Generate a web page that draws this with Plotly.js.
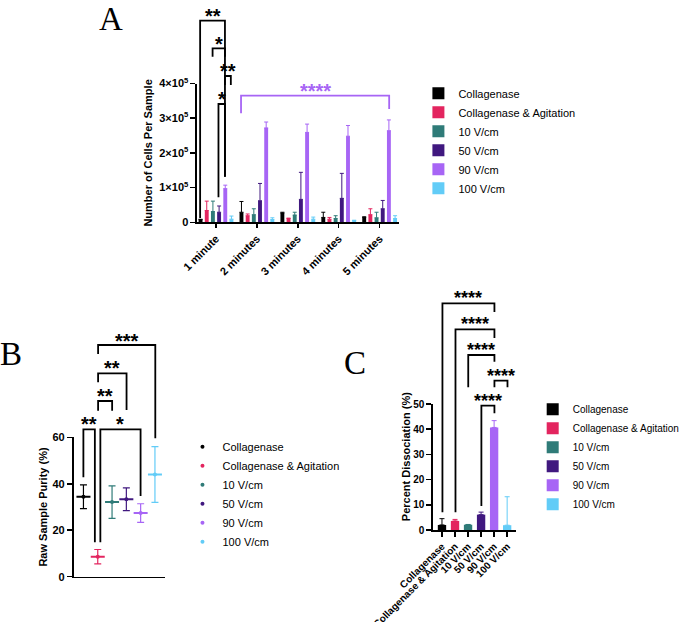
<!DOCTYPE html>
<html><head><meta charset="utf-8">
<script src="https://cdn.plot.ly/plotly-3.0.1.min.js"></script>
<style>html,body{margin:0;padding:0;background:#fff;} #chart{width:685px;height:622px;}</style>
</head><body><div id="chart"></div>
<script>
// ---------- data ----------
const groups = ['Collagenase', 'Collagenase & Agitation', '10 V/cm', '50 V/cm', '90 V/cm', '100 V/cm'];
const colors = ['#000000', '#e3255f', '#2f7b78', '#40187f', '#a765f5', '#62ccf7'];

// Panel A: cells per sample by time
const timeLabels = ['1 minute', '2 minutes', '3 minutes', '4 minutes', '5 minutes'];
const cellsCollagenase = [7700, 29000, 27000, 14000, 14000];
const cellsAgitation   = [34000, 19000, 11000, 9000, 22000];
const cells10          = [31000, 22000, 21000, 11000, 13000];
const cells50          = [29000, 62000, 66000, 69000, 39000];
const cells90          = [97000, 272000, 259000, 248000, 264000];
const cells100         = [9000, 8000, 9000, 5000, 11000];
const sdCollagenase = [1000, 31000, 2000, 15000, 2000];
const sdAgitation   = [27000, 5000, 1000, 5000, 17000];
const sd10          = [30000, 17000, 8000, 8000, 16000];
const sd50          = [18000, 50000, 78000, 72000, 24000];
const sd90          = [10000, 17000, 24000, 31000, 31000];
const sd100         = [9000, 5000, 6000, 1000, 8000];
const cellTickVals = [0, 100000, 200000, 300000, 400000];
const cellTickText = ['0', '1×10<sup>5</sup>', '2×10<sup>5</sup>', '3×10<sup>5</sup>', '4×10<sup>5</sup>'];

// Panel B: raw sample purity (%)
const purityMean = [34.4, 8.6, 32.1, 33.3, 27.4, 44.0];
const puritySD   = [5.1, 3.1, 7.0, 4.9, 4.0, 12.0];

// Panel C: percent dissociation (%)
const dissocMean = [2.0, 3.6, 2.1, 6.1, 40.7, 1.9];
const dissocSD   = [2.5, 0.6, 0.1, 1.0, 2.7, 11.3];

// ---------- helpers (page pixels -> paper) ----------
const W = 685, H = 622;
const px = x => x / W;
const py = y => 1 - y / H;

const FONT = 'Liberation Sans, Arial, Helvetica, sans-serif';
const cellsA = [cellsCollagenase, cellsAgitation, cells10, cells50, cells90, cells100];
const sdA = [sdCollagenase, sdAgitation, sd10, sd50, sd90, sd100];
const zeros5 = [0, 0, 0, 0, 0];

const traces = [];
groups.forEach((g, i) => {
  traces.push({
    type: 'bar', name: g, x: timeLabels, y: cellsA[i], xaxis: 'x', yaxis: 'y',
    marker: {color: colors[i], line: {width: 0}},
    error_y: {type: 'data', symmetric: false, array: sdA[i], arrayminus: zeros5, color: colors[i], thickness: 1, width: 2},
    legend: 'legend', hoverinfo: 'skip'
  });
});
groups.forEach((g, i) => {
  traces.push({
    type: 'scatter', mode: 'markers', name: g, x: [g], y: [purityMean[i]], xaxis: 'x2', yaxis: 'y2',
    marker: {symbol: 'line-ew-open', size: 10, color: colors[i], line: {width: 2, color: colors[i]}},
    error_y: {type: 'data', array: [puritySD[i]], color: colors[i], thickness: 1.2, width: 3.5},
    showlegend: false, hoverinfo: 'skip'
  });
  traces.push({
    type: 'scatter', mode: 'markers', name: g, x: [g], y: [purityMean[i]], xaxis: 'x2', yaxis: 'y2',
    marker: {symbol: 'circle', size: 4, color: colors[i]},
    legend: 'legend2', hoverinfo: 'skip'
  });
});
groups.forEach((g, i) => {
  traces.push({
    type: 'bar', name: g, x: [g], y: [dissocMean[i]], xaxis: 'x3', yaxis: 'y3',
    offsetgroup: 'c', width: 0.64, offset: -0.32,
    marker: {color: colors[i], line: {width: 0}},
    error_y: {type: 'data', symmetric: false, array: [dissocSD[i]], arrayminus: [0], color: colors[i], thickness: 1, width: 2.5},
    legend: 'legend3', hoverinfo: 'skip'
  });
});

const axBase = {
  showgrid: false, zeroline: false, showline: true, linecolor: '#000', linewidth: 1.7,
  ticks: 'outside', ticklen: 5, tickwidth: 1.5, tickcolor: '#000',
  tickfont: {family: FONT, size: 11, color: '#000', weight: 'bold'}, fixedrange: true
};
const titleFont = {family: FONT, size: 11, color: '#000', weight: 'bold'};

// ---------- significance brackets ----------
const shapes = [];
const annotations = [];
function bracket(x1, x2, yh, y1, y2, color) {
  shapes.push({
    type: 'path', xref: 'paper', yref: 'paper',
    path: `M ${px(x1)},${py(y1)} L ${px(x1)},${py(yh)} L ${px(x2)},${py(yh)} L ${px(x2)},${py(y2)}`,
    line: {color: color || '#000', width: 1.8}
  });
}
function stars(text, x, y, size, color) {
  annotations.push({
    text: text, xref: 'paper', yref: 'paper', x: px(x), y: py(y + 0.22 * size),
    xanchor: 'center', yanchor: 'middle', showarrow: false,
    font: {family: FONT, size: size, color: color || '#000', weight: 'bold'}
  });
}
const PURPLE = '#a765f5';
// Panel A
bracket(204, 229.3, 20.7, 218, 176.7); stars('**', 216.7, 12, 20);
bracket(216.7, 229.3, 48.3, 56.7, 56.7); stars('*', 223, 39.5, 20);
bracket(229.3, 235.3, 76, 85, 85); stars('**', 232.3, 67, 20);
bracket(222.7, 229.3, 104, 197.3, 176.7); stars('*', 226, 94.5, 20);
bracket(245.7, 396.7, 95.7, 113.3, 109, PURPLE); stars('****', 321.2, 86.5, 20, PURPLE);
// Panel B
bracket(85, 96.7, 429.3, 477.3, 542.3); stars('**', 91, 420, 20);
bracket(102.3, 143.3, 429.3, 542.3, 496); stars('*', 122.8, 420, 20);
bracket(100, 114.3, 401, 410.7, 410.7); stars('**', 107.2, 392, 20);
bracket(100, 129, 373.3, 382.3, 410); stars('**', 114.5, 364, 20);
bracket(100, 158.3, 345, 354, 438.3); stars('***', 129.2, 337, 20);
// Panel C
bracket(451, 504, 303.3, 512.3, 312); stars('****', 477.5, 294.5, 18);
bracket(464.3, 504, 329.3, 512.3, 338); stars('****', 484.2, 320.5, 18);
bracket(477.3, 504, 355, 387.3, 361.7); stars('****', 490.7, 346, 18);
bracket(504, 517.3, 380.7, 387.3, 387.3); stars('****', 510.7, 371.7, 18);
bracket(490.7, 504, 405.7, 506, 413.3); stars('****', 497.3, 396.7, 18);

// panel C y-axis title (placed to sit close to its tick labels)
annotations.push({
  text: 'Percent Dissociation (%)', xref: 'paper', yref: 'paper', x: px(414), y: py(457),
  xanchor: 'center', yanchor: 'middle', textangle: -90, showarrow: false, font: titleFont
});

// panel letters
[['A', 113, 19], ['B', 11.5, 354], ['C', 362, 362.5]].forEach(([t, x, y]) => {
  annotations.push({
    text: t, xref: 'paper', yref: 'paper', x: px(x), y: py(y), xanchor: 'center', yanchor: 'middle',
    showarrow: false, font: {family: 'Liberation Serif, DejaVu Serif, serif', size: 33, color: '#000'}
  });
});

const legendBase = {xanchor: 'left', yanchor: 'top', bgcolor: 'rgba(0,0,0,0)', borderwidth: 0,
  traceorder: 'normal', font: {family: FONT, size: 11, color: '#000'}};

const layout = {
  width: W, height: H, margin: {l: 0, r: 0, t: 0, b: 0},
  paper_bgcolor: '#ffffff', plot_bgcolor: 'rgba(0,0,0,0)',
  font: {family: FONT, color: '#000'},
  barmode: 'group', bargap: 0.094, bargroupgap: 0.37,
  showlegend: true,
  xaxis: Object.assign({}, axBase, {domain: [px(201), px(407)], anchor: 'y', type: 'category',
    range: [-0.46, 4.48], tickangle: -45, ticklen: 4}),
  yaxis: Object.assign({}, axBase, {domain: [py(222.3), py(83.5)], anchor: 'x', range: [0, 400000],
    tickvals: cellTickVals, ticktext: cellTickText,
    title: {text: 'Number of Cells Per Sample', font: titleFont, standoff: 4}}),
  xaxis2: Object.assign({}, axBase, {domain: [px(75), px(168)], anchor: 'y2', type: 'category',
    categoryorder: 'array', categoryarray: groups, range: [-0.69, 5.69], ticks: '', showticklabels: false}),
  yaxis2: Object.assign({}, axBase, {domain: [py(576.7), py(437.3)], anchor: 'x2', range: [0, 60],
    tickvals: [0, 20, 40, 60], title: {text: 'Raw Sample Purity (%)', font: titleFont, standoff: 2}}),
  xaxis3: Object.assign({}, axBase, {domain: [px(441.5), px(526)], anchor: 'y3', type: 'category',
    categoryorder: 'array', categoryarray: groups, range: [-0.68, 5.68], tickangle: -45,
    tickfont: {family: FONT, size: 10, color: '#000', weight: 'bold'}}),
  yaxis3: Object.assign({}, axBase, {domain: [py(530), py(404)], anchor: 'x3', range: [0, 50],
    tickvals: [0, 10, 20, 30, 40, 50], tickfont: {family: FONT, size: 10, color: '#000', weight: 'bold'}}),
  legend: Object.assign({}, legendBase, {x: px(426.5), y: py(78.8)}),
  legend2: Object.assign({}, legendBase, {x: px(186), y: py(432.2)}),
  legend3: Object.assign({}, legendBase, {x: px(543), y: py(394.8), font: {family: FONT, size: 10, color: '#000'}}),
  shapes: shapes,
  annotations: annotations
};

Plotly.newPlot('chart', traces, layout, {staticPlot: true, displayModeBar: false});
</script>
</body></html>
